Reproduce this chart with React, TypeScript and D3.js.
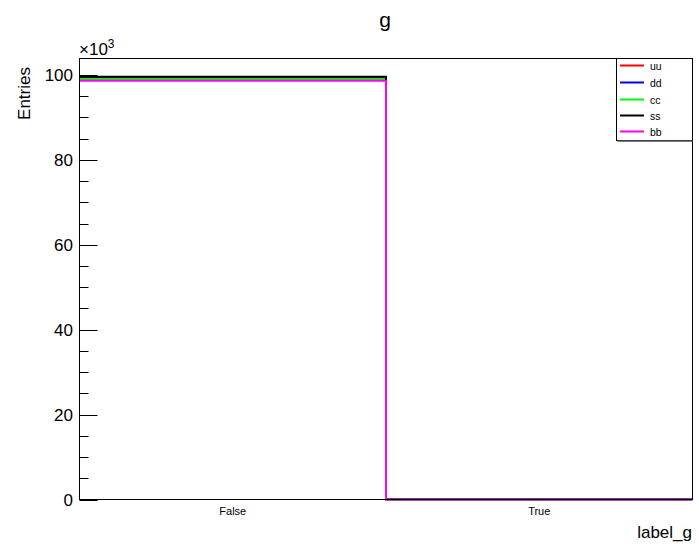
import React from "react";
import * as d3 from "d3";

const categories = ["False", "True"];
const seriesNames = ["uu", "dd", "cc", "ss", "bb"];
const seriesColors = ["#ff0000", "#0000ff", "#00ff00", "#000000", "#ff00ff"];
const uuValues = [99100, 0];
const ddValues = [99550, 0];
const ccValues = [99120, 0];
const ssValues = [99590, 0];
const bbValues = [98640, 0];
const yTicks = [0, 20, 40, 60, 80, 100];
const yAxisMax = 103900;

const allSeries = [uuValues, ddValues, ccValues, ssValues, bbValues];

const W = 699;
const H = 544;
const FONT = "'Liberation Sans', Arial, Helvetica, sans-serif";

export default function App() {
  const left = 79.5;
  const right = 692.5;
  const top = 58.5;
  const bottom = 499.5;

  const x = d3.scaleLinear().domain([0, categories.length]).range([left, right]);
  const y = d3.scaleLinear().domain([0, yAxisMax]).range([bottom, top]);

  const stepPath = (vals: number[]) => {
    const pts: [number, number][] = [];
    vals.forEach((v, i) => {
      pts.push([x(i), y(v)]);
      pts.push([x(i + 1), y(v)]);
    });
    return d3.line()(pts) as string;
  };

  const minorTicks = d3.range(0, yAxisMax / 1000 + 0.001, 5).filter((t) => t % 20 !== 0);

  const legX0 = 616.5;
  const legX1 = 692.5;
  const legY0 = 58.5;
  const legY1 = 140.5;
  const rowY = [65.5, 82.5, 99.5, 115.5, 131.5];

  return (
    <svg width={W} height={H} style={{ position: "absolute", left: 0, top: 0, background: "#fff" }} fontFamily={FONT}>
      <rect x={0} y={0} width={W} height={H} fill="#fff" />
      <defs>
        <clipPath id="frameClip">
          <rect x={left} y={top - 2} width={right - left} height={bottom - top + 3} />
        </clipPath>
      </defs>
      {/* title */}
      <text x={385} y={27} fontSize={21} textAnchor="middle" fill="#000">g</text>

      {/* histograms */}
      <g clipPath="url(#frameClip)">
        {allSeries.map((vals, i) => (
          <path key={seriesNames[i]} d={stepPath(vals)} fill="none" stroke={seriesColors[i]} strokeWidth={2} />
        ))}
      </g>

      {/* frame */}
      <rect x={left} y={top} width={right - left} height={bottom - top} fill="none" stroke="#000" strokeWidth={1} />

      {/* y ticks */}
      {yTicks.map((t) => (
        <g key={t}>
          <line x1={left} x2={left + 18} y1={Math.round(y(t * 1000)) + 0.5} y2={Math.round(y(t * 1000)) + 0.5} stroke="#000" />
          <text x={73} y={y(t * 1000) + 6} fontSize={17} textAnchor="end" fill="#000">{t}</text>
        </g>
      ))}
      {minorTicks.map((t) => (
        <line key={"m" + t} x1={left} x2={left + 9} y1={Math.round(y(t * 1000)) + 0.5} y2={Math.round(y(t * 1000)) + 0.5} stroke="#000" />
      ))}
      <text x={79} y={55} fontSize={17} fill="#000">
        ×10<tspan dy={-7} fontSize={12}>3</tspan>
      </text>

      {/* x labels */}
      {categories.map((c, i) => (
        <text key={c} x={x(i + 0.5)} y={515} fontSize={11} textAnchor="middle" fill="#000">{c}</text>
      ))}

      {/* axis titles */}
      <text x={692} y={538} fontSize={17} textAnchor="end" fill="#000">label_g</text>
      <text transform="translate(29.5,67) rotate(-90)" fontSize={17} textAnchor="end" fill="#000">Entries</text>

      {/* legend */}
      <rect x={legX0} y={legY0} width={legX1 - legX0} height={legY1 - legY0} fill="#fff" stroke="#000" strokeWidth={1} />
      <line x1={legX0 + 1} x2={legX1} y1={legY1 + 0.5} y2={legY1 + 0.5} stroke="#555" strokeWidth={1.5} />
      {seriesNames.map((n, i) => (
        <g key={n}>
          <line x1={620} x2={644} y1={rowY[i]} y2={rowY[i]} stroke={seriesColors[i]} strokeWidth={2} />
          <text x={650} y={rowY[i] + 4} fontSize={10.5} fill="#000">{n}</text>
        </g>
      ))}
    </svg>
  );
}
